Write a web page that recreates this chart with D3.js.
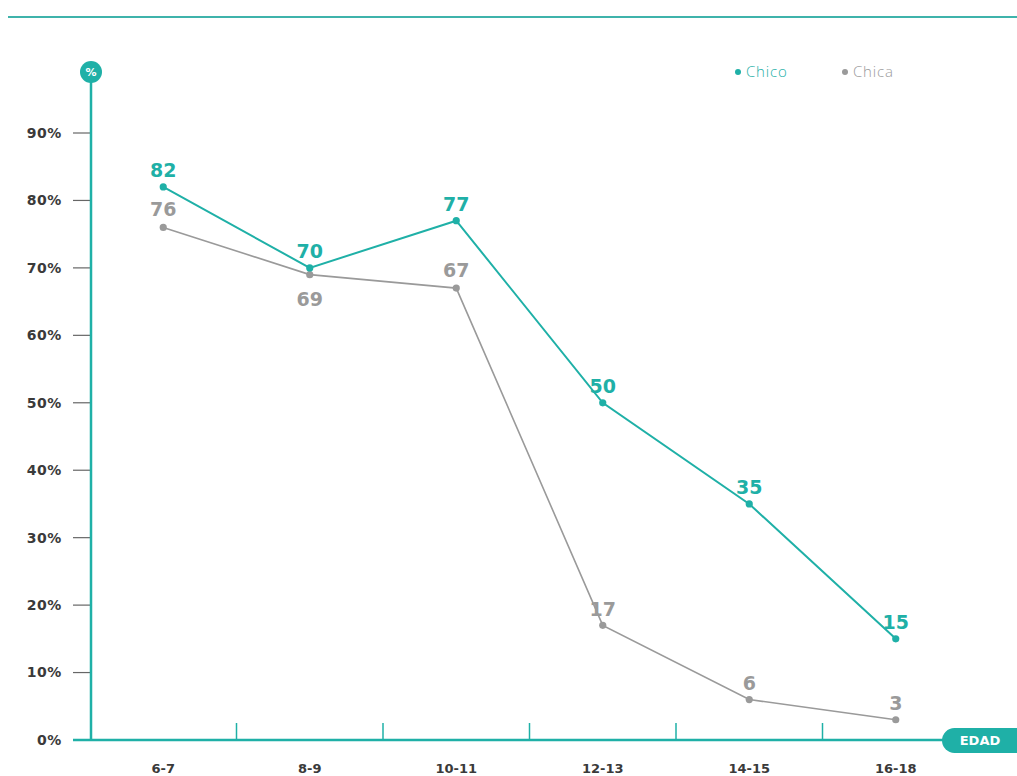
<!DOCTYPE html>
<html>
<head>
<meta charset="utf-8">
<script src="https://cdn.jsdelivr.net/npm/d3@7"></script>
<style>
  html, body { margin: 0; padding: 0; background: #fff; }
  svg { display: block; font-family: "DejaVu Sans", "Open Sans", sans-serif; }
</style>
</head>
<body>
<svg id="chart" width="1017" height="776"></svg>
<script>
// Age groups on the x axis
const ageGroups = ["6-7", "8-9", "10-11", "12-13", "14-15", "16-18"];
// Percentage per age group
const chicoValues = [82, 70, 77, 50, 35, 15];
const chicaValues = [76, 69, 67, 17, 6, 3];
// Y axis ticks
const yTicks = [0, 10, 20, 30, 40, 50, 60, 70, 80, 90];
const seriesNames = ["Chico", "Chica"];

const TEAL = "#1fb0a7";
const GRAY = "#9a9a9a";

const svg = d3.select("#chart");

const x = d3.scaleBand().domain(ageGroups).range([90, 969]);
const y = d3.scaleLinear().domain([0, 90]).range([740, 133]);

// Top rule
svg.append("line")
  .attr("x1", 8).attr("x2", 1017).attr("y1", 17).attr("y2", 17)
  .attr("stroke", "#3fb3ab").attr("stroke-width", 2);

// Y axis: short tick lines and labels
const yAxisG = svg.append("g");
yAxisG.selectAll("line.tick").data(yTicks).join("line")
  .attr("class", "tick")
  .attr("x1", 73).attr("x2", 91)
  .attr("y1", d => y(d)).attr("y2", d => y(d))
  .attr("stroke", "#666").attr("stroke-width", 1.2);
yAxisG.selectAll("text").data(yTicks).join("text")
  .attr("x", 62).attr("y", d => y(d))
  .attr("dy", "0.35em")
  .attr("text-anchor", "end")
  .attr("font-size", 14).attr("font-weight", 700)
  .attr("letter-spacing", 0.6)
  .attr("fill", "#3a3a3a")
  .text(d => d + "%");

// X axis band separators
const bounds = ageGroups.slice(1).map(g => x(g));
svg.selectAll("line.sep").data(bounds).join("line")
  .attr("class", "sep")
  .attr("x1", d => d).attr("x2", d => d)
  .attr("y1", 723).attr("y2", 740)
  .attr("stroke", TEAL).attr("stroke-width", 1.5);

// X axis category labels
svg.selectAll("text.xlab").data(ageGroups).join("text")
  .attr("class", "xlab")
  .attr("x", d => x(d) + x.bandwidth() / 2)
  .attr("y", 768).attr("dy", "0.35em")
  .attr("text-anchor", "middle")
  .attr("font-size", 13).attr("font-weight", 700)
  .attr("fill", "#3a3a3a")
  .text(d => d);

// Axis lines
svg.append("line")
  .attr("x1", 73).attr("x2", 960).attr("y1", y(0)).attr("y2", y(0))
  .attr("stroke", TEAL).attr("stroke-width", 2.5);
svg.append("line")
  .attr("x1", 91).attr("x2", 91).attr("y1", 72).attr("y2", y(0))
  .attr("stroke", TEAL).attr("stroke-width", 2.5);

// "%" badge at top of y axis
svg.append("circle").attr("cx", 91).attr("cy", 72).attr("r", 11).attr("fill", TEAL);
svg.append("text")
  .attr("x", 91).attr("y", 72).attr("dy", "0.36em")
  .attr("text-anchor", "middle")
  .attr("font-size", 11).attr("font-weight", 700).attr("fill", "#fff")
  .text("%");

// "EDAD" pill at end of x axis
svg.append("rect")
  .attr("x", 942).attr("y", 728).attr("width", 90).attr("height", 25)
  .attr("rx", 12.5).attr("fill", TEAL);
svg.append("text")
  .attr("x", 980).attr("y", 740.5).attr("dy", "0.36em")
  .attr("text-anchor", "middle")
  .attr("font-size", 13).attr("font-weight", 700).attr("fill", "#fff")
  .text("EDAD");

// Series lines, points and value labels
const cx = d => x(d) + x.bandwidth() / 2;
const line = d3.line().x(d => cx(d.g)).y(d => y(d.v));

function drawSeries(values, color, width, labelOffsets) {
  const data = ageGroups.map((g, i) => ({ g, v: values[i] }));
  const g = svg.append("g");
  g.append("path").datum(data)
    .attr("d", line)
    .attr("fill", "none")
    .attr("stroke", color).attr("stroke-width", width);
  g.selectAll("circle").data(data).join("circle")
    .attr("cx", d => cx(d.g)).attr("cy", d => y(d.v))
    .attr("r", 3.6).attr("fill", color);
  g.selectAll("text").data(data).join("text")
    .attr("x", d => cx(d.g))
    .attr("y", (d, i) => y(d.v) + labelOffsets[i])
    .attr("text-anchor", "middle")
    .attr("font-size", 19).attr("font-weight", 700)
    .attr("fill", color)
    .text(d => d.v);
}

drawSeries(chicaValues, GRAY, 1.6, [-11, 31, -11, -9, -10, -10]);
drawSeries(chicoValues, TEAL, 2, [-10, -10, -10, -10, -10, -10]);

// Legend
const legend = svg.append("g");
const legendItems = [
  { name: seriesNames[0], color: TEAL, x: 738 },
  { name: seriesNames[1], color: GRAY, x: 845 }
];
legend.selectAll("circle").data(legendItems).join("circle")
  .attr("cx", d => d.x).attr("cy", 72).attr("r", 3).attr("fill", d => d.color);
legend.selectAll("text").data(legendItems).join("text")
  .attr("x", d => d.x + 8).attr("y", 72).attr("dy", "0.35em")
  .attr("font-family", "'Open Sans', sans-serif")
  .attr("font-size", 15).attr("font-weight", 300)
  .attr("letter-spacing", 0.8)
  .attr("fill", d => d.color)
  .text(d => d.name);
</script>
</body>
</html>
